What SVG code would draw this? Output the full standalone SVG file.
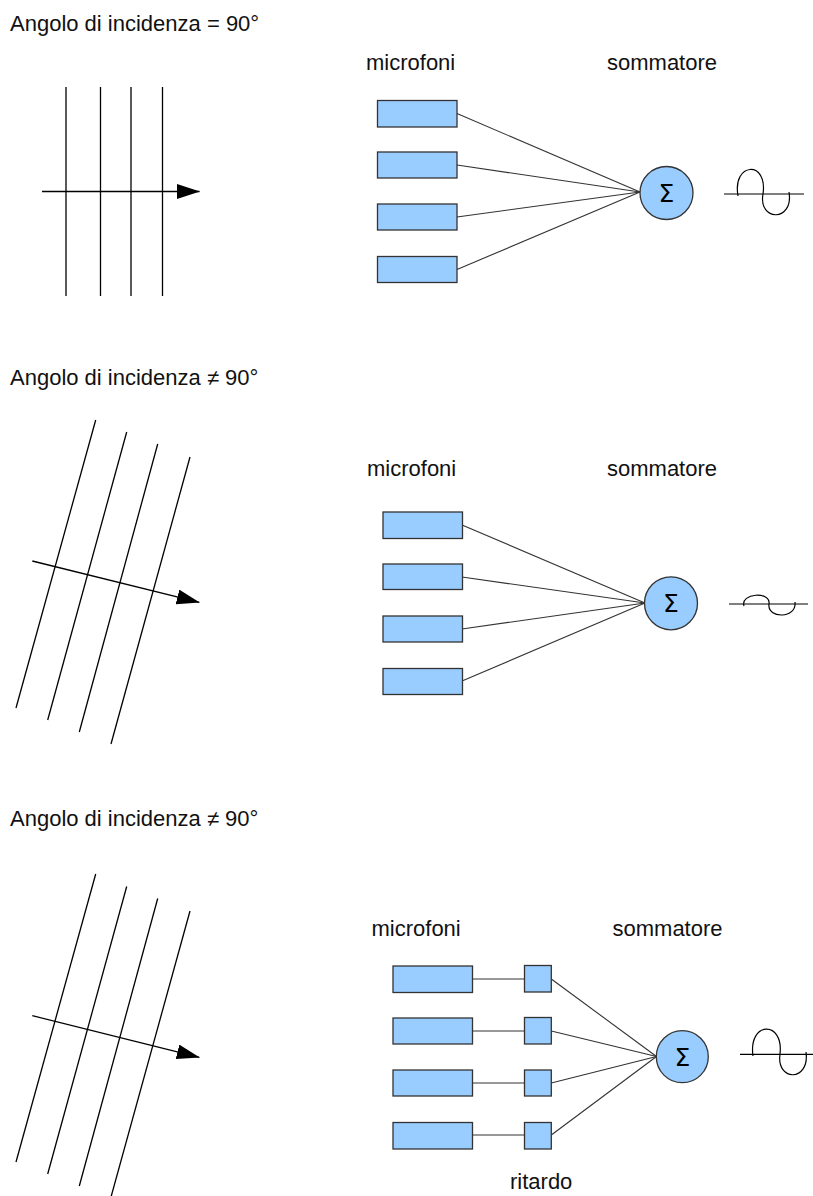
<svg xmlns="http://www.w3.org/2000/svg" width="813" height="1196" viewBox="0 0 813 1196">
<style>
text{font-family:"Liberation Sans",Arial,sans-serif;font-size:22px;fill:#111}
.mic{fill:#99ccff;stroke:#333;stroke-width:1.3}
.sum{fill:#99ccff;stroke:#333;stroke-width:1.3}
.sig{font-family:"DejaVu Sans",sans-serif;font-size:25px;text-anchor:middle;fill:#000}
.wf{stroke:#000;stroke-width:1.3;fill:none}
.con{stroke:#333;stroke-width:1.1;fill:none}
.arr{stroke:#000;stroke-width:1.3;fill:none;marker-end:url(#ah)}
.wave{stroke:#000;stroke-width:1.2;fill:none}
</style>
<defs>
<marker id="ah" markerUnits="userSpaceOnUse" markerWidth="24" markerHeight="16" refX="22.5" refY="7.5" orient="auto">
<path d="M0,0 L23,7.5 L0,15 z" fill="#000"/>
</marker>
</defs>

<!-- Section 1 -->
<g id="title1"><text x="10" y="31">Angolo di incidenza = 90°</text></g>
<g id="wavefront1">
<line class="wf" x1="66" y1="87" x2="66" y2="296"/>
<line class="wf" x1="100.5" y1="87" x2="100.5" y2="296"/>
<line class="wf" x1="131" y1="87" x2="131" y2="296"/>
<line class="wf" x1="162.5" y1="87" x2="162.5" y2="296"/>
<line class="arr" x1="42" y1="191.5" x2="199.5" y2="191.5"/>
</g>
<g id="labels1">
<text x="366" y="70">microfoni</text>
<text x="607" y="70">sommatore</text>
</g>
<g id="connectors1">
<line class="con" x1="457" y1="113.5" x2="640" y2="192"/>
<line class="con" x1="457" y1="165" x2="640" y2="192"/>
<line class="con" x1="457" y1="217" x2="640" y2="192"/>
<line class="con" x1="457" y1="269.5" x2="640" y2="192"/>
</g>
<g id="mic1a"><rect class="mic" x="377.5" y="100.5" width="79.5" height="26.5"/></g>
<g id="mic1b"><rect class="mic" x="377.5" y="152" width="79.5" height="26"/></g>
<g id="mic1c"><rect class="mic" x="377.5" y="204" width="79.5" height="26"/></g>
<g id="mic1d"><rect class="mic" x="377.5" y="256.5" width="79.5" height="26"/></g>
<g id="sum1"><circle class="sum" cx="666.5" cy="193" r="26.5"/><text class="sig" x="666.5" y="202">Σ</text></g>
<g id="out1">
<line class="wave" x1="724" y1="194" x2="804" y2="194"/>
<path class="wave" d="M738,196 C732,162 768,160 763,194 C758,222 794,222 789,192"/>
</g>

<!-- Section 2 -->
<g id="title2"><text x="10" y="385">Angolo di incidenza ≠ 90°</text></g>
<g id="wavefront2">
<line class="wf" x1="95.7" y1="420" x2="16" y2="708"/>
<line class="wf" x1="126.7" y1="432" x2="47.7" y2="720"/>
<line class="wf" x1="157.7" y1="444" x2="79.3" y2="732"/>
<line class="wf" x1="190" y1="457" x2="111" y2="744"/>
<line class="arr" x1="32.3" y1="561" x2="199.3" y2="602.3"/>
</g>
<g id="labels2">
<text x="367" y="476">microfoni</text>
<text x="607" y="476">sommatore</text>
</g>
<g id="connectors2">
<line class="con" x1="462" y1="525" x2="645" y2="603"/>
<line class="con" x1="462" y1="577" x2="645" y2="603"/>
<line class="con" x1="462" y1="629" x2="645" y2="603"/>
<line class="con" x1="462" y1="681" x2="645" y2="603"/>
</g>
<g id="mic2a"><rect class="mic" x="383" y="512" width="79.5" height="26.5"/></g>
<g id="mic2b"><rect class="mic" x="383" y="564" width="79.5" height="25.5"/></g>
<g id="mic2c"><rect class="mic" x="383" y="616" width="79.5" height="26"/></g>
<g id="mic2d"><rect class="mic" x="383" y="668.5" width="79.5" height="26"/></g>
<g id="sum2"><circle class="sum" cx="671" cy="603.3" r="26.5"/><text class="sig" x="671" y="612.3">Σ</text></g>
<g id="out2">
<line class="wave" x1="729" y1="604" x2="808" y2="604"/>
<path class="wave" d="M744,606 C740,593 771,591 769,604 C767,619 797,619 795,602"/>
</g>

<!-- Section 3 -->
<g id="title3"><text x="10" y="826">Angolo di incidenza ≠ 90°</text></g>
<g id="wavefront3">
<line class="wf" x1="95.7" y1="874" x2="16" y2="1162"/>
<line class="wf" x1="126.7" y1="886.5" x2="47.7" y2="1174"/>
<line class="wf" x1="157.7" y1="898.5" x2="79.3" y2="1186"/>
<line class="wf" x1="190" y1="911" x2="111" y2="1197"/>
<line class="arr" x1="32.3" y1="1015.7" x2="199.3" y2="1057.3"/>
</g>
<g id="labels3">
<text x="371.5" y="936">microfoni</text>
<text x="612.5" y="936">sommatore</text>
<text x="510" y="1189">ritardo</text>
</g>
<g id="connectors3">
<line class="con" x1="472.5" y1="979" x2="524.5" y2="979"/>
<line class="con" x1="472.5" y1="1031" x2="524.5" y2="1031"/>
<line class="con" x1="472.5" y1="1083" x2="524.5" y2="1083"/>
<line class="con" x1="472.5" y1="1135" x2="524.5" y2="1135"/>
<line class="con" x1="551.3" y1="979" x2="656.5" y2="1056.5"/>
<line class="con" x1="551.3" y1="1031" x2="656.5" y2="1056.5"/>
<line class="con" x1="551.3" y1="1083" x2="656.5" y2="1056.5"/>
<line class="con" x1="551.3" y1="1135" x2="656.5" y2="1056.5"/>
</g>
<g id="mic3a"><rect class="mic" x="393" y="966" width="79.5" height="26.5"/></g>
<g id="mic3b"><rect class="mic" x="393" y="1018" width="79.5" height="26"/></g>
<g id="mic3c"><rect class="mic" x="393" y="1070" width="79.5" height="26"/></g>
<g id="mic3d"><rect class="mic" x="393" y="1122.5" width="79.5" height="26.5"/></g>
<g id="delay3a"><rect class="mic" x="524.5" y="965.5" width="26.8" height="26.5"/></g>
<g id="delay3b"><rect class="mic" x="524.5" y="1017.5" width="26.8" height="26.5"/></g>
<g id="delay3c"><rect class="mic" x="524.5" y="1070" width="26.8" height="26"/></g>
<g id="delay3d"><rect class="mic" x="524.5" y="1122.5" width="26.8" height="26.5"/></g>
<g id="sum3"><circle class="sum" cx="682.3" cy="1056.7" r="26"/><text class="sig" x="682.3" y="1065.7">Σ</text></g>
<g id="out3">
<line class="wave" x1="740" y1="1054.3" x2="813" y2="1054.3"/>
<path class="wave" d="M753,1056 C748,1021 784,1020 780,1054 C776,1082 810,1082 806,1052"/>
</g>
</svg>
